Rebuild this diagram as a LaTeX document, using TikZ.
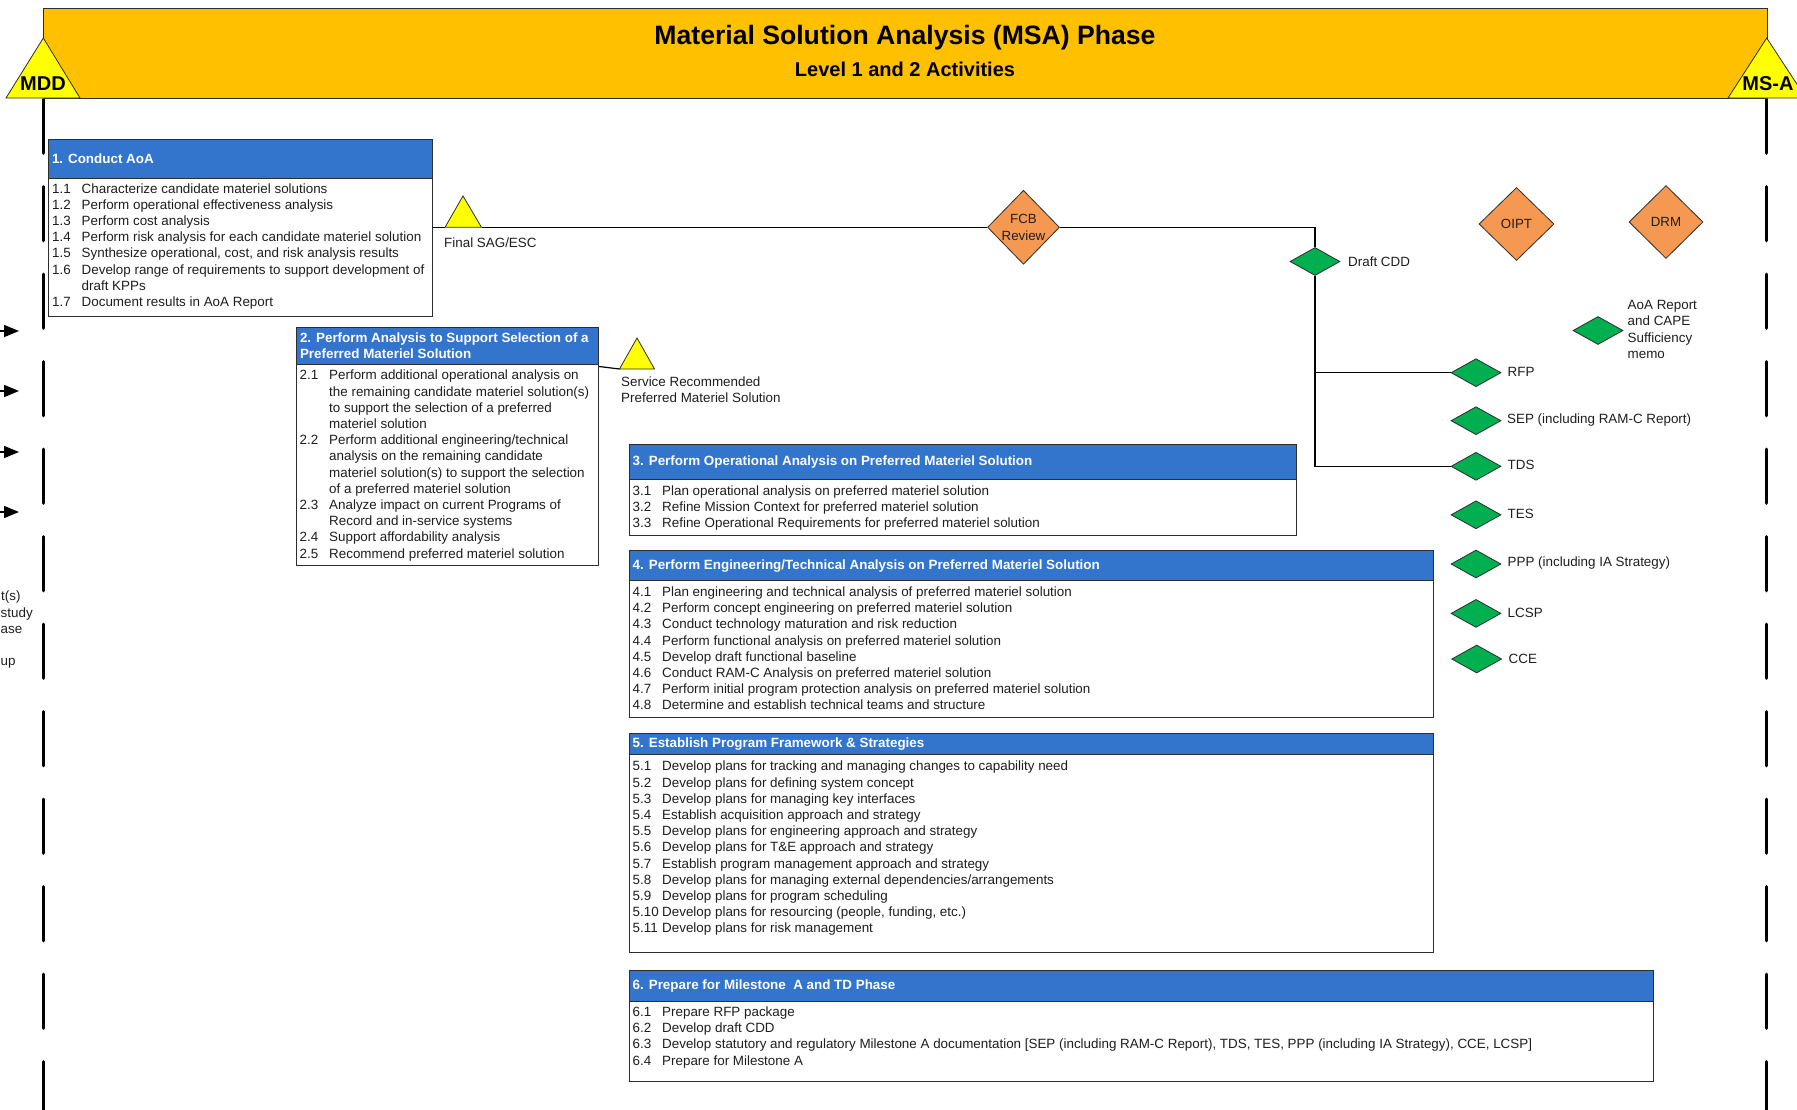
\documentclass[tikz,border=0pt]{standalone}
\usepackage{fontspec}
\setmainfont{Liberation Sans}
\usetikzlibrary{shapes.geometric,arrows.meta,calc}
\definecolor{bandgold}{RGB}{255,192,0}
\definecolor{yel}{RGB}{255,255,0}
\definecolor{hdrblue}{RGB}{51,116,205}
\definecolor{orng}{RGB}{245,152,82}
\definecolor{msgreen}{RGB}{0,176,80}
\definecolor{edge}{RGB}{45,45,45}
\definecolor{txt}{RGB}{30,30,30}
\begin{document}
\begin{tikzpicture}[x=1pt,y=-1pt,
  itm/.style={anchor=base west,inner sep=0pt,font=\fontsize{13.4}{16.2}\selectfont,text=txt},
  hdrtxt/.style={anchor=west,inner sep=0pt,font=\bfseries\fontsize{13.4}{16}\selectfont,text=white,align=left},
  hdrbox/.style={draw=edge,fill=hdrblue,line width=1.2pt,inner sep=0pt,anchor=north west},
  bodybox/.style={draw=edge,fill=white,line width=1.2pt,inner sep=0pt,anchor=north west},
  gem/.style={diamond,draw=edge,line width=0.8pt,fill=msgreen,inner sep=0pt,minimum width=50pt,minimum height=28pt},
  review/.style={diamond,draw=edge,line width=0.8pt,fill=orng,inner sep=0pt,align=center,text=txt,font=\fontsize{13.3}{16.7}\selectfont},
  lbl/.style={anchor=west,inner sep=0pt,font=\fontsize{13.4}{16.2}\selectfont,text=txt,align=left},
  conn/.style={draw=black,line width=1.2pt},
  phase/.style={draw=black,line width=3.3pt,line cap=round,dash pattern=on 54pt off 33.5pt},
  miltri/.style={fill=yel,draw=edge,line width=0.8pt,line join=miter},
  miltxt/.style={inner sep=0pt,font=\bfseries\fontsize{20}{22}\selectfont,text=black}
]
\useasboundingbox (0,0) rectangle (1797,1109);

% phase boundary lines
\coordinate (lt) at (43.3,99.2);
\coordinate (lb) at (43.3,1120);
\coordinate (rt) at (1766.7,99.2);
\coordinate (rb) at (1766.7,1120);
\draw[phase] (lt) -- (lb);
\draw[phase] (rt) -- (rb);

% header band
\node[draw=edge,fill=bandgold,line width=1pt,inner sep=0pt,anchor=north west,minimum width=1723.5pt,minimum height=90pt] (band) at (43.3,7.5) {};
\node[inner sep=0pt,font=\bfseries\fontsize{26.6}{30}\selectfont] (title) at (905,38) {Material Solution Analysis (MSA) Phase};
\node[inner sep=0pt,font=\bfseries\fontsize{20}{22}\selectfont] (subtitle) at (905,69) {Level 1 and 2 Activities};

% milestone triangles
\filldraw[miltri] (43.3,38) -- (80,98) -- (6,98) -- cycle;
\node[miltxt] (mdd) at (43,84) {MDD};
\filldraw[miltri] (1766.7,38) -- (1806,98) -- (1728,98) -- cycle;
\node[miltxt] (msa) at (1768,84) {MS-A};

% incoming arrows at left edge (cut off)
\foreach \yy [count=\k] in {331,391,452,512}{
  \coordinate (ia\k) at (-20,\yy);
  \coordinate (ib\k) at (19,\yy);
  \draw[line width=1.5pt,-{Triangle[length=15pt,width=12pt]}] (ia\k) -- (ib\k);
}
% text at left edge
\node[itm,anchor=base west] (cut1) at (1,600.8) {t(s)};
\node[itm,anchor=base west] (cut2) at (0.5,617) {study};
\node[itm,anchor=base west] (cut3) at (0.5,633.2) {ase};
\node[itm,anchor=base west] (cut4) at (0.5,665.6) {up};

% ---------- Box 1
\node[bodybox,minimum width=384pt,minimum height=138pt] (b1) at (48,178) {};
\node[hdrbox,minimum width=384pt,minimum height=39pt] (b1h) at (48,139) {};
\node[hdrtxt] (b1t) at ([xshift=3.8pt]b1h.west) {1. Conduct AoA};
\foreach \n/\t [count=\i from 0] in {1.1/{Characterize candidate materiel solutions},
  1.2/{Perform operational effectiveness analysis},
  1.3/{Perform cost analysis},
  1.4/{Perform risk analysis for each candidate materiel solution},
  1.5/{Synthesize operational, cost, and risk analysis results},
  1.6/{Develop range of requirements to support development of},
  {}/{draft KPPs},
  1.7/{Document results in AoA Report}}{
  \node[itm] (b1i\i) at (52,193.1+16.2*\i) {\makebox[29.5pt][l]{\n}\t};
}

% ---------- Box 2
\node[bodybox,minimum width=302pt,minimum height=201.5pt] (b2) at (296,363.5) {};
\node[hdrbox,minimum width=302pt,minimum height=37pt] (b2h) at (296,326.5) {};
\node[hdrtxt] (b2t) at ([xshift=3.8pt]b2h.west) {2. Perform Analysis to Support Selection of a\\Preferred Materiel Solution};
\foreach \n/\t [count=\i from 0] in {2.1/{Perform additional operational analysis on},
  {}/{the remaining candidate materiel solution(s)},
  {}/{to support the selection of a preferred},
  {}/{materiel solution},
  2.2/{Perform additional engineering/technical},
  {}/{analysis on the remaining candidate},
  {}/{materiel solution(s) to support the selection},
  {}/{of a preferred materiel solution},
  2.3/{Analyze impact on current Programs of},
  {}/{Record and in-service systems},
  2.4/{Support affordability analysis},
  2.5/{Recommend preferred materiel solution}}{
  \node[itm] (b2i\i) at (299.5,379.8+16.2*\i) {\makebox[29.5pt][l]{\n}\t};
}

% ---------- Box 3
\node[bodybox,minimum width=667pt,minimum height=56pt] (b3) at (629,479) {};
\node[hdrbox,minimum width=667pt,minimum height=35.5pt] (b3h) at (629,443.5) {};
\node[hdrtxt] (b3t) at ([xshift=3.5pt]b3h.west) {3. Perform Operational Analysis on Preferred Materiel Solution};
\foreach \n/\t [count=\i from 0] in {3.1/{Plan operational analysis on preferred materiel solution},
  3.2/{Refine Mission Context for preferred materiel solution},
  3.3/{Refine Operational Requirements for preferred materiel solution}}{
  \node[itm] (b3i\i) at (632.5,495.1+16.2*\i) {\makebox[29.5pt][l]{\n}\t};
}

% ---------- Box 4
\node[bodybox,minimum width=804pt,minimum height=137pt] (b4) at (629,580) {};
\node[hdrbox,minimum width=804pt,minimum height=30pt] (b4h) at (629,550) {};
\node[hdrtxt] (b4t) at ([xshift=3.5pt]b4h.west) {4. Perform Engineering/Technical Analysis on Preferred Materiel Solution};
\foreach \n/\t [count=\i from 0] in {4.1/{Plan engineering and technical analysis of preferred materiel solution},
  4.2/{Perform concept engineering on preferred materiel solution},
  4.3/{Conduct technology maturation and risk reduction},
  4.4/{Perform functional analysis on preferred materiel solution},
  4.5/{Develop draft functional baseline},
  4.6/{Conduct RAM-C Analysis on preferred materiel solution},
  4.7/{Perform initial program protection analysis on preferred materiel solution},
  4.8/{Determine and establish technical teams and structure}}{
  \node[itm] (b4i\i) at (632.5,596.5+16.2*\i) {\makebox[29.5pt][l]{\n}\t};
}

% ---------- Box 5
\node[bodybox,minimum width=804pt,minimum height=198pt] (b5) at (629,754) {};
\node[hdrbox,minimum width=804pt,minimum height=21.5pt] (b5h) at (629,732.5) {};
\node[hdrtxt] (b5t) at ([xshift=3.5pt]b5h.west) {5. Establish Program Framework \& Strategies};
\foreach \n/\t [count=\i from 0] in {5.1/{Develop plans for tracking and managing changes to capability need},
  5.2/{Develop plans for defining system concept},
  5.3/{Develop plans for managing key interfaces},
  5.4/{Establish acquisition approach and strategy},
  5.5/{Develop plans for engineering approach and strategy},
  5.6/{Develop plans for T\&E approach and strategy},
  5.7/{Establish program management approach and strategy},
  5.8/{Develop plans for managing external dependencies/arrangements},
  5.9/{Develop plans for program scheduling},
  5.10/{Develop plans for resourcing (people, funding, etc.)},
  5.11/{Develop plans for risk management}}{
  \node[itm] (b5i\i) at (632.5,770.8+16.2*\i) {\makebox[29.5pt][l]{\n}\t};
}

% ---------- Box 6
\node[bodybox,minimum width=1023.5pt,minimum height=79.5pt] (b6) at (629,1001) {};
\node[hdrbox,minimum width=1023.5pt,minimum height=31.5pt] (b6h) at (629,969.5) {};
\node[hdrtxt] (b6t) at ([xshift=3.5pt]b6h.west) {6. Prepare for Milestone\ \ A and TD Phase};
\foreach \n/\t [count=\i from 0] in {6.1/{Prepare RFP package},
  6.2/{Develop draft CDD},
  6.3/{Develop statutory and regulatory Milestone A documentation [SEP (including RAM-C Report), TDS, TES, PPP (including IA Strategy), CCE, LCSP]},
  6.4/{Prepare for Milestone A}}{
  \node[itm] (b6i\i) at (632.5,1016.5+16.2*\i) {\makebox[29.5pt][l]{\n}\t};
}

% ---------- decision points
\node[review,minimum width=72pt,minimum height=74pt] (fcb) at (1023.5,227.3) {FCB\\Review};
\node[review,minimum width=75pt,minimum height=73pt] (oipt) at (1516.5,224) {OIPT};
\node[review,minimum width=74pt,minimum height=73pt] (drm) at (1666,222) {DRM};

% ---------- documents (green diamonds)
\node[gem] (cdd) at (1315,261.5) {};
\node[gem] (aoa) at (1598,330.5) {};
\node[gem] (rfp) at (1476,372.7) {};
\node[gem] (sep) at (1476,420.7) {};
\node[gem] (tds) at (1476,466.3) {};
\node[gem] (tes) at (1476,514.8) {};
\node[gem] (ppp) at (1476,564) {};
\node[gem] (lcsp) at (1476,613.4) {};
\node[gem] (cce) at (1476.7,659) {};

\node[lbl] (cddl) at (1348,261.5) {Draft CDD};
\node[lbl] (aoal) at (1627.5,329.5) {AoA Report\\and CAPE\\Sufficiency\\memo};
\node[lbl] (rfpl) at (1507.5,371.5) {RFP};
\node[lbl] (sepl) at (1507,419.7) {SEP (including RAM-C Report)};
\node[lbl] (tdsl) at (1507.5,465.3) {TDS};
\node[lbl] (tesl) at (1507.5,514) {TES};
\node[lbl] (pppl) at (1507.5,563.3) {PPP (including IA Strategy)};
\node[lbl] (lcspl) at (1507.5,612.7) {LCSP};
\node[lbl] (ccel) at (1508.5,658.5) {CCE};

% ---------- milestone triangles on connectors
\coordinate (sagL) at (445,227.3);
\coordinate (sagR) at (481.5,227.3);
\coordinate (srvL) at (619.5,369);
\node[lbl,anchor=west] (sagl) at (444,242.5) {Final SAG/ESC};
\filldraw[miltri] (srvL) -- (637,338) -- (654.5,369) -- cycle;
\node[lbl] (srvl) at (621,389.7) {Service Recommended\\Preferred Materiel Solution};

% ---------- connectors
\draw[conn] (b1.east |- fcb.west) -- (sagL);
\draw[conn] (sagR) -- (fcb.west);
\draw[conn] (fcb.east) -| (cdd.north);
\draw[conn] (cdd.south) -- (cdd.south |- tds.west) -- (tds.west);
\draw[conn] (cdd.south |- rfp.west) -- (rfp.west);
\draw[conn] ([yshift=-3pt]b2.north east) -- (srvL);

% triangle over connector line
\filldraw[miltri] (sagL) -- (463,196) -- (sagR) -- cycle;
\end{tikzpicture}
\end{document}
